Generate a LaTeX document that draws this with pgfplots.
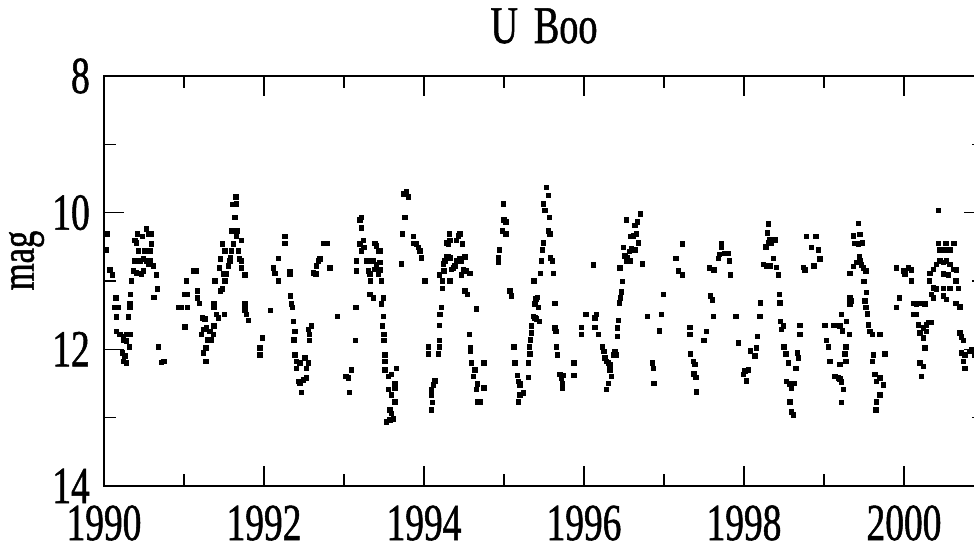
\documentclass[border=0pt]{standalone}
\usepackage{fontspec}
\setmainfont{Liberation Serif}[FakeStretch=0.72, FakeBold=1]
\usepackage{pgfplots}
\usepackage{pgfplotstable}
\pgfplotsset{compat=1.18}

% Visual estimates of U Boo (year, magnitude)
\pgfplotstableread{
year mag
1990.042 10.31
1990.033 10.55
1990.075 10.84
1990.108 10.91
1990.150 11.25
1990.138 11.39
1990.179 11.39
1990.158 11.53
1990.304 11.53
1990.158 11.74
1990.200 11.78
1990.242 11.81
1990.283 11.78
1990.325 11.78
1990.242 11.86
1990.283 11.88
1990.317 11.97
1990.233 12.05
1990.263 12.10
1990.242 12.18
1990.283 12.20
1990.325 11.34
1990.333 11.20
1990.346 11.00
1990.325 11.39
1990.367 10.85
1990.388 10.71
1990.408 10.71
1990.450 10.71
1990.492 10.68
1990.533 10.71
1990.575 10.71
1990.408 10.44
1990.388 10.41
1990.417 10.31
1990.483 10.35
1990.533 10.24
1990.554 10.31
1990.596 10.31
1990.596 10.46
1990.575 10.56
1990.513 10.56
1990.429 10.56
1990.471 10.90
1990.408 10.88
1990.492 10.85
1990.554 10.76
1990.617 10.78
1990.658 10.91
1990.667 11.12
1990.625 11.24
1990.683 11.97
1990.721 12.19
1990.750 12.18
1990.929 11.39
1990.971 11.39
1991.042 11.39
1991.042 11.20
1991.013 11.20
1991.033 11.00
1991.125 10.85
1991.150 10.85
1991.013 11.67
1991.167 11.15
1991.167 11.25
1991.192 11.33
1991.233 11.54
1991.263 11.56
1991.221 11.78
1991.250 11.71
1991.283 11.69
1991.325 11.74
1991.367 11.78
1991.346 11.86
1991.292 11.86
1991.275 11.98
1991.242 12.05
1991.275 12.18
1991.375 11.66
1991.375 11.34
1991.375 11.39
1991.408 11.49
1991.429 11.54
1991.508 11.49
1991.388 11.00
1991.442 10.81
1991.458 10.68
1991.513 10.56
1991.483 10.46
1991.554 10.78
1991.533 10.90
1991.492 10.90
1991.513 11.00
1991.458 11.15
1991.483 11.12
1991.575 10.71
1991.583 10.66
1991.596 10.56
1991.617 10.46
1991.617 10.27
1991.596 10.27
1991.638 10.07
1991.608 9.88
1991.658 9.87
1991.650 9.77
1991.658 10.35
1991.667 10.27
1991.679 10.56
1991.692 10.68
1991.721 10.71
1991.721 10.41
1991.721 10.81
1991.763 10.91
1991.763 11.34
1991.763 11.42
1991.783 11.49
1991.804 11.58
1991.950 11.98
1991.950 12.08
1991.983 11.83
1992.083 11.43
1992.117 10.81
1992.138 10.89
1992.179 11.00
1992.179 10.67
1992.263 10.35
1992.263 10.45
1992.325 10.86
1992.325 10.90
1992.333 11.22
1992.346 11.34
1992.358 11.39
1992.367 11.59
1992.388 11.74
1992.375 11.86
1992.388 12.08
1992.408 12.18
1992.408 12.28
1992.450 12.20
1992.429 12.47
1992.450 12.50
1992.471 12.63
1992.513 12.13
1992.554 12.20
1992.533 12.28
1992.533 12.42
1992.492 12.45
1992.554 11.71
1992.596 11.66
1992.567 11.78
1992.567 11.87
1992.617 10.88
1992.650 10.90
1992.658 10.78
1992.679 10.71
1992.700 10.68
1992.750 10.45
1992.792 10.45
1992.825 10.81
1992.921 11.52
1993.025 12.40
1993.054 12.42
1993.067 12.63
1993.096 12.30
1993.150 11.39
1993.158 10.71
1993.158 10.85
1993.146 11.87
1993.200 10.11
1993.221 10.07
1993.221 10.22
1993.200 10.46
1993.221 10.56
1993.250 10.51
1993.242 10.41
1993.283 10.71
1993.304 10.85
1993.325 10.90
1993.346 10.71
1993.367 10.71
1993.388 10.83
1993.408 10.76
1993.429 10.90
1993.388 10.45
1993.429 10.56
1993.408 10.49
1993.333 11.00
1993.325 11.20
1993.367 11.25
1993.450 10.56
1993.450 10.73
1993.450 10.84
1993.471 11.00
1993.492 11.25
1993.471 11.34
1993.492 11.52
1993.483 11.66
1993.500 11.78
1993.500 11.87
1993.513 12.08
1993.513 12.18
1993.513 12.30
1993.554 12.40
1993.596 12.37
1993.658 12.28
1993.638 12.50
1993.638 12.57
1993.554 12.59
1993.596 12.67
1993.638 12.77
1993.575 12.89
1993.596 12.94
1993.575 13.03
1993.533 13.06
1993.617 13.02
1993.742 9.73
1993.783 9.70
1993.804 9.77
1993.763 10.07
1993.733 10.31
1993.721 10.75
1993.867 10.35
1993.867 10.45
1993.908 10.46
1993.929 10.51
1993.950 10.56
1993.971 10.66
1994.013 11.00
1994.054 11.97
1994.054 12.07
1994.138 12.46
1994.117 12.52
1994.096 12.59
1994.096 12.67
1994.108 12.78
1994.096 12.89
1994.179 12.07
1994.192 11.97
1994.192 11.87
1994.192 11.65
1994.200 11.49
1994.221 11.39
1994.192 10.91
1994.233 11.00
1994.233 11.11
1994.250 10.85
1994.242 10.75
1994.263 10.71
1994.283 10.65
1994.304 10.65
1994.325 10.66
1994.346 10.83
1994.367 10.81
1994.388 10.78
1994.408 10.71
1994.450 10.68
1994.471 10.71
1994.492 10.83
1994.513 10.65
1994.471 10.91
1994.533 10.85
1994.575 10.89
1994.283 10.44
1994.304 10.46
1994.325 10.41
1994.317 10.31
1994.408 10.41
1994.429 10.34
1994.450 10.31
1994.483 10.46
1994.325 11.00
1994.513 11.15
1994.542 11.20
1994.567 11.78
1994.583 11.98
1994.583 12.03
1994.596 12.20
1994.638 12.30
1994.617 12.40
1994.667 12.51
1994.658 12.59
1994.667 12.77
1994.700 12.77
1994.750 12.20
1994.750 12.57
1994.658 11.41
1994.929 10.66
1994.929 10.73
1994.942 10.55
1994.983 10.27
1995.000 10.11
1995.025 10.14
1995.025 10.31
1994.992 9.87
1995.075 11.15
1995.096 11.22
1995.125 11.97
1995.138 12.20
1995.167 12.38
1995.179 12.47
1995.200 12.52
1995.208 12.50
1995.200 12.67
1995.242 12.64
1995.179 12.77
1995.304 12.41
1995.304 12.20
1995.325 12.07
1995.317 11.97
1995.333 11.86
1995.346 11.76
1995.346 11.66
1995.367 11.52
1995.388 11.54
1995.408 11.56
1995.442 11.59
1995.388 11.34
1995.400 11.26
1995.417 11.24
1995.429 11.39
1995.375 11.00
1995.458 10.89
1995.471 10.71
1995.483 10.55
1995.492 10.44
1995.513 9.97
1995.492 9.87
1995.533 9.63
1995.554 9.75
1995.567 10.07
1995.554 10.27
1995.575 10.31
1995.583 10.66
1995.608 10.71
1995.617 10.89
1995.638 11.33
1995.638 11.69
1995.650 11.74
1995.658 11.97
1995.667 12.08
1995.700 12.37
1995.721 12.42
1995.733 12.50
1995.733 12.57
1995.742 12.38
1995.875 12.20
1995.875 12.38
1995.971 11.68
1995.971 11.78
1996.025 11.49
1996.138 11.54
1996.158 11.49
1996.138 11.68
1996.179 11.78
1996.117 10.77
1996.233 11.97
1996.250 12.03
1996.263 12.13
1996.283 12.18
1996.304 12.20
1996.325 12.23
1996.325 12.30
1996.346 12.40
1996.304 12.50
1996.283 12.59
1996.367 12.08
1996.388 12.03
1996.408 12.08
1996.417 11.81
1996.417 11.69
1996.429 11.58
1996.442 11.32
1996.458 11.25
1996.471 11.16
1996.483 11.01
1996.450 10.81
1996.492 10.51
1996.513 10.63
1996.533 10.71
1996.542 10.66
1996.575 10.71
1996.567 10.57
1996.596 10.53
1996.638 10.55
1996.583 10.35
1996.617 10.34
1996.658 10.31
1996.679 10.44
1996.667 10.14
1996.638 10.19
1996.533 10.11
1996.708 10.02
1996.733 10.75
1996.792 11.52
1996.858 12.20
1996.867 12.28
1996.875 12.50
1996.942 11.73
1996.971 11.49
1996.992 11.20
1997.150 10.67
1997.179 10.85
1997.233 10.91
1997.233 10.46
1997.325 11.68
1997.325 11.78
1997.333 12.07
1997.367 12.18
1997.388 12.22
1997.375 12.36
1997.400 12.41
1997.408 12.62
1997.500 11.87
1997.533 11.74
1997.567 10.81
1997.625 10.84
1997.583 11.22
1997.608 11.28
1997.617 11.52
1997.679 10.67
1997.692 10.61
1997.721 10.46
1997.721 10.51
1997.763 10.60
1997.804 10.60
1997.817 10.71
1997.833 10.91
1997.900 11.52
1997.929 11.91
1997.992 12.37
1998.013 12.32
1998.033 12.46
1998.054 12.30
1998.083 12.02
1998.138 12.10
1998.158 11.98
1998.167 11.81
1998.200 11.52
1998.208 11.32
1998.242 10.76
1998.275 10.50
1998.304 10.44
1998.317 10.39
1998.292 10.30
1998.304 10.17
1998.346 10.44
1998.388 10.40
1998.283 10.78
1998.325 10.78
1998.367 10.67
1998.408 10.80
1998.429 10.91
1998.442 11.20
1998.450 11.32
1998.458 11.59
1998.471 11.71
1998.492 11.66
1998.500 11.97
1998.525 12.07
1998.554 12.20
1998.533 12.47
1998.575 12.51
1998.596 12.57
1998.625 12.50
1998.575 12.77
1998.596 12.92
1998.617 12.96
1998.667 12.05
1998.679 12.13
1998.650 12.28
1998.700 11.65
1998.700 11.78
1998.742 10.80
1998.763 10.84
1998.783 10.35
1998.900 10.35
1998.846 10.51
1998.929 10.55
1998.950 10.68
1998.875 10.78
1999.013 11.65
1999.033 11.87
1999.054 11.97
1999.075 12.18
1999.125 11.65
1999.158 11.65
1999.200 11.66
1999.221 11.49
1999.233 11.73
1999.283 11.59
1999.317 11.78
1999.275 11.97
1999.263 12.07
1999.275 12.18
1999.200 12.22
1999.138 12.40
1999.179 12.42
1999.221 12.48
1999.242 12.59
1999.221 12.78
1999.200 12.43
1999.325 10.89
1999.367 10.79
1999.408 10.73
1999.450 10.71
1999.471 10.77
1999.492 10.81
1999.525 10.85
1999.442 10.65
1999.429 10.46
1999.388 10.45
1999.483 10.44
1999.367 10.34
1999.450 10.32
1999.433 10.16
1999.325 11.25
1999.346 11.29
1999.325 11.34
1999.500 11.01
1999.533 11.17
1999.513 11.29
1999.525 11.39
1999.542 11.48
1999.554 11.64
1999.575 11.74
1999.608 11.78
1999.700 11.78
1999.617 12.08
1999.608 12.18
1999.638 12.37
1999.658 12.47
1999.700 12.42
1999.742 12.52
1999.700 12.67
1999.658 12.77
1999.650 12.89
1999.763 12.07
1999.908 10.81
1999.992 10.85
2000.054 10.81
2000.096 10.84
2000.013 10.90
2000.096 11.00
1999.942 11.25
1999.908 11.39
2000.117 11.33
2000.158 11.34
2000.200 11.33
2000.263 11.34
2000.117 11.49
2000.158 11.49
2000.179 11.64
2000.200 11.76
2000.242 11.69
2000.283 11.64
2000.283 11.74
2000.304 11.61
2000.346 11.61
2000.242 11.83
2000.263 11.98
2000.200 12.20
2000.242 12.25
2000.221 12.40
2000.317 11.00
2000.325 10.89
2000.367 10.83
2000.408 10.76
2000.450 10.71
2000.492 10.73
2000.533 10.71
2000.575 10.76
2000.617 10.83
2000.658 10.84
2000.429 10.45
2000.525 10.45
2000.625 10.45
2000.450 10.55
2000.513 10.55
2000.583 10.55
2000.492 10.90
2000.554 10.91
2000.650 11.00
2000.367 11.10
2000.408 11.12
2000.492 11.11
2000.575 11.11
2000.679 11.11
2000.346 11.20
2000.367 11.25
2000.492 11.22
2000.533 11.27
2000.650 11.33
2000.700 11.38
2000.429 9.97
2000.700 11.76
2000.721 11.82
2000.742 11.87
2000.721 12.05
2000.763 12.08
2000.825 12.03
2000.742 12.18
2000.763 12.28
2000.846 12.01
2000.888 12.08
}\uboo

\begin{document}
\begin{tikzpicture}
\begin{axis}[
  at={(0pt,0pt)}, anchor=south west,
  scale only axis,
  width=880pt, height=410pt,
  xmin=1990, xmax=2001,
  ymin=8, ymax=14,
  y dir=reverse,
  xtick={1990,1992,...,2000},
  minor xtick={1991,1993,...,1999},
  ytick={8,10,12,14},
  minor ytick={9,11,13},
  major tick length=20pt,
  minor tick length=12pt,
  tick align=inside,
  axis line style={line width=2.2pt, black},
  every tick/.style={line width=1.3pt, black},
  /pgf/number format/assume math mode=true,
  /pgf/number format/1000 sep={},
  tick label style={font=\fontsize{52}{52}\selectfont, inner sep=0pt},
  yticklabel style={anchor=base east, xshift=-14pt, yshift=-17pt},
  xticklabel style={anchor=base, yshift=-54pt},
  title={U\hspace{0.3em}Boo},
  title style={font=\fontsize{53}{53}\selectfont, at={(axis description cs:0.5,1)},
    anchor=base, inner sep=0pt, yshift=27pt},
  ylabel={mag},
  ylabel style={font=\fontsize{48}{48}\selectfont, at={(axis description cs:-0.088,0.55)},
    anchor=center, inner sep=0pt},
]
\addplot[only marks, mark=square*, mark size=2.3pt, black,
  mark options={line width=0pt}] table[x=year, y=mag] {\uboo};
\end{axis}
\pgfresetboundingbox
\useasboundingbox (-104pt,-61pt) rectangle (870pt,486pt);
\end{tikzpicture}
\end{document}
